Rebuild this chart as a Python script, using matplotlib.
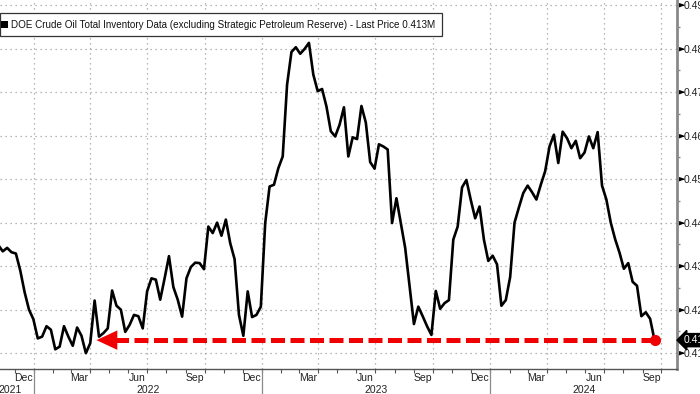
import pandas as pd
import matplotlib
matplotlib.use('Agg')
import matplotlib.pyplot as plt
import matplotlib.dates as mdates
import matplotlib.transforms as mtransforms
from matplotlib.patches import Rectangle

plt.rcParams['font.family'] = ['Liberation Sans', 'DejaVu Sans']

# weekly inventory, first week ending 2021-11-05
first_week = '2021-11-05'
inventory = [
    0.4348, 0.4334, 0.4342, 0.4332, 0.4329, 0.4290, 0.4240, 0.4200, 0.4178, 0.4134,
    0.4138, 0.4162, 0.4154, 0.4109, 0.4115, 0.4162, 0.4138, 0.4117, 0.4159, 0.4140,
    0.4100, 0.4123, 0.4221, 0.4138, 0.4146, 0.4157, 0.4244, 0.4209, 0.4200, 0.4149,
    0.4165, 0.4188, 0.4185, 0.4157, 0.4242, 0.4272, 0.4269, 0.4223, 0.4272, 0.4323,
    0.4252, 0.4223, 0.4184, 0.4272, 0.4298, 0.4308, 0.4307, 0.4293, 0.4391, 0.4376,
    0.4400, 0.4370, 0.4407, 0.4353, 0.4316, 0.4188, 0.4140, 0.4242, 0.4183, 0.4188,
    0.4207, 0.4399, 0.4483, 0.4487, 0.4525, 0.4552, 0.4717, 0.4792, 0.4803, 0.4788,
    0.4799, 0.4813, 0.4740, 0.4702, 0.4707, 0.4667, 0.4610, 0.4598, 0.4625, 0.4665,
    0.4552, 0.4596, 0.4592, 0.4668, 0.4630, 0.4539, 0.4524, 0.4580, 0.4575, 0.4568,
    0.4399, 0.4456, 0.4399, 0.4342, 0.4255, 0.4167, 0.4207, 0.4185, 0.4162, 0.4142,
    0.4243, 0.4202, 0.4215, 0.4222, 0.4361, 0.4391, 0.4481, 0.4498, 0.4452, 0.4410,
    0.4437, 0.4361, 0.4312, 0.4324, 0.4304, 0.4209, 0.4222, 0.4275, 0.4400, 0.4435,
    0.4468, 0.4485, 0.4470, 0.4453, 0.4487, 0.4518, 0.4575, 0.4602, 0.4537, 0.4609,
    0.4594, 0.4571, 0.4588, 0.4548, 0.4561, 0.4598, 0.4571, 0.4608, 0.4485, 0.4453,
    0.4400, 0.4362, 0.4331, 0.4294, 0.4307, 0.4264, 0.4255, 0.4185, 0.4194, 0.4179,
    0.4130,
]
last_price = 0.413
arrow_tip = '2022-04-11'

legend_label = ('DOE Crude Oil Total Inventory Data (excluding Strategic Petroleum Reserve)'
                ' - Last Price 0.413M')
y_ticks = [0.41, 0.42, 0.43, 0.44, 0.45, 0.46, 0.47, 0.48, 0.49]
y_minor = [0.415, 0.425, 0.435, 0.445, 0.455, 0.465, 0.475, 0.485]
year_labels = ['2021', '2022', '2023', '2024']
year_label_pos = ['2021-11-23', '2022-07-02', '2023-07-02', '2024-05-30']
year_starts = ['2022-01-01', '2023-01-01', '2024-01-01']
x_min, x_max = '2021-11-07 14:00', '2024-10-26'

dates = pd.date_range(first_week, periods=len(inventory), freq='W-FRI')
last_date = dates[-1]

W, H = 700, 394
fig = plt.figure(figsize=(7, 3.94), dpi=100)
ax = fig.add_axes([0, 25 / H, 677 / W, 369 / H])

grid_kw = dict(color='#a0a0a0', lw=0.9, linestyle=(0, (1, 3)))
for q in pd.date_range('2022-01-01', '2024-10-01', freq='QS'):
    ax.axvline(q, zorder=0, **grid_kw)
for y in y_ticks:
    ax.axhline(y, zorder=0, **grid_kw)

ax.plot(dates, inventory, color='black', lw=1.9, zorder=3)

# red dashed arrow back to the previous low
red = '#f00000'
tip = pd.Timestamp(arrow_tip)
head_base = tip + pd.Timedelta(days=30)
dash_line, = ax.plot([last_date, head_base], [last_price, last_price], color=red,
                     lw=3.6, zorder=4, solid_capstyle='butt', dash_capstyle='butt')
dash_line.set_dashes((2.8, 1.1))
ax.annotate('', xy=(tip, last_price), xytext=(head_base + pd.Timedelta(days=10), last_price),
            arrowprops=dict(arrowstyle='-|>,head_length=1.5,head_width=0.7',
                            mutation_scale=10, color=red, lw=0, shrinkA=0, shrinkB=0),
            zorder=5)
ax.plot([last_date], [last_price], 'o', color=red, ms=7, zorder=6)

ax.set_xlim(pd.Timestamp(x_min), pd.Timestamp(x_max))
ax.set_ylim(0.40637, 0.49115)

for s in ['left', 'top']:
    ax.spines[s].set_visible(False)
ax.spines['right'].set_color('#8a8a8a')
ax.spines['right'].set_linewidth(2)
ax.spines['bottom'].set_color('#555555')
ax.spines['bottom'].set_linewidth(1)

# y axis on the right with triangle tick markers
ax.yaxis.tick_right()
ax.set_yticks(y_ticks)
ax.set_yticks(y_minor, minor=True)
ax.set_yticklabels(['%.2f' % v for v in y_ticks])
ax.tick_params(axis='y', which='major', length=0, pad=5, labelsize=7.5, labelcolor='#222222')
ax.tick_params(axis='y', which='minor', length=2.5, width=1, color='#8a8a8a')
ytrans = mtransforms.blended_transform_factory(ax.transAxes, ax.transData)
tri = [(0, -0.35), (0, 0.35), (1, 0)]
ax.plot([1.003] * len(y_ticks), y_ticks, transform=ytrans, marker=tri, ms=7,
        color='black', ls='none', clip_on=False)

# last price tag
ax.annotate('%.3f' % last_price, xy=(1, last_price), xycoords=ytrans,
            xytext=(5, 0), textcoords='offset points', ha='left', va='center',
            fontsize=7.5, color='white', annotation_clip=False,
            bbox=dict(boxstyle='larrow,pad=0.15', fc='black', ec='black'))

# x axis: month ticks, quarter labels, year separators
ax.xaxis.set_major_locator(mdates.MonthLocator(bymonth=[3, 6, 9, 12], bymonthday=15))
ax.xaxis.set_major_formatter(mdates.DateFormatter('%b'))
ax.xaxis.set_minor_locator(mdates.MonthLocator())
ax.tick_params(axis='x', which='major', length=0, pad=3, labelsize=7.5, labelcolor='#222222')
ax.tick_params(axis='x', which='minor', length=3, width=0.8, color='#555555')

xtrans = mtransforms.blended_transform_factory(ax.transData, ax.transAxes)
for d in year_starts:
    d = pd.Timestamp(d)
    ax.plot([d, d], [0, -25 / 369], transform=xtrans, color='#8a8a8a', lw=0.9, clip_on=False)
for lab, pos in zip(year_labels, year_label_pos):
    ax.text(pd.Timestamp(pos), -21 / 369, lab, transform=xtrans, ha='center', va='center',
            fontsize=7.5, color='#222222')

# legend strip in the top-left corner
fig.add_artist(Rectangle((0, 1 - 36 / H), 442 / W, 23 / H, transform=fig.transFigure,
                         fc='white', ec='#333333', lw=0.9, zorder=10))
fig.add_artist(Rectangle((1 / W, 1 - 27.5 / H), 6.5 / W, 6.5 / H, transform=fig.transFigure,
                         fc='black', ec='black', lw=0, zorder=11))
fig.text(11 / W, 1 - 24.5 / H, legend_label, ha='left', va='center', fontsize=7.15,
         color='#111111', zorder=12)

fig.savefig('out.png', dpi=100)
